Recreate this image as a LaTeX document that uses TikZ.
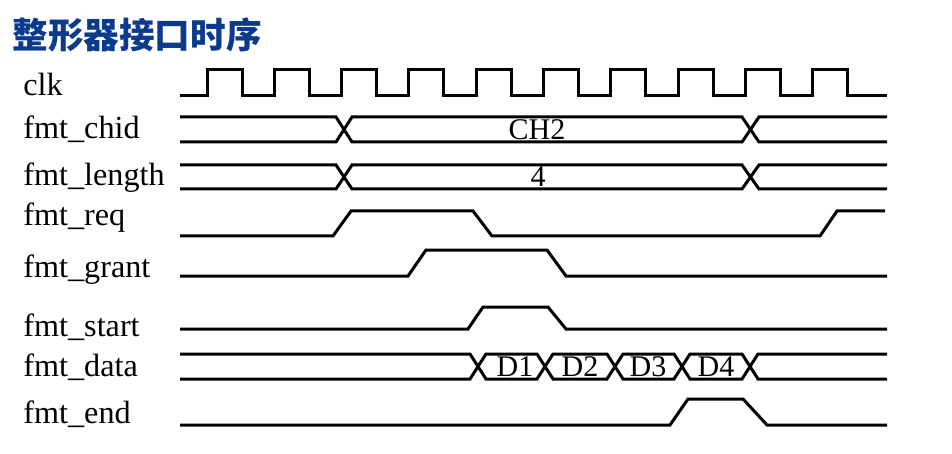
\documentclass[tikz,border=0pt]{standalone}
\usepackage{fontspec}
\setmainfont{Liberation Serif}
\newfontfamily\cjk{Noto Sans CJK SC}
\usetikzlibrary{positioning}
\definecolor{titleblue}{RGB}{12,58,140}
\tikzset{
  sig/.style={line width=1.5pt, line join=miter},
  lbl/.style={anchor=base west, inner sep=0pt, font=\fontsize{16.1}{18}\selectfont},
  val/.style={inner sep=0pt, font=\fontsize{15}{18}\selectfont},
}

\begin{document}
\begin{tikzpicture}[x=0.5pt, y=-0.5pt]
    \useasboundingbox (0,0) rectangle (952,454);
    \node (title) [anchor=west, inner sep=0pt, text=titleblue, font=\cjk\bfseries\fontsize{17.8}{20}\selectfont] at (12,35) {整形器接口时序};

    % signal names
    \node (clk)   [lbl] at (23,96)  {clk};
    \node (chid)  [lbl] at (23,139) {fmt\_chid};
    \node (len)   [lbl] at (23,186) {fmt\_length};
    \node (req)   [lbl] at (23,226) {fmt\_req};
    \node (grant) [lbl] at (23,278) {fmt\_grant};
    \node (start) [lbl] at (23,336) {fmt\_start};
    \node (data)  [lbl] at (23,376) {fmt\_data};
    \node (end)   [lbl] at (23,423) {fmt\_end};

    % clk
    \draw[sig] (180,96)
      \foreach \k in {0,...,9} {
        -- ({207+67.3*\k},96) -- ({207+67.3*\k},70)
        -- ({242+67.3*\k},70) -- ({242+67.3*\k},96)
      } -- (887,96);

    % fmt_chid / fmt_length
    \foreach \t/\b in {117/142, 165/189} {
      \draw[sig] (180,\t) -- (336,\t) -- (352,\b) -- (742,\b) -- (759,\t) -- (887,\t);
      \draw[sig] (180,\b) -- (336,\b) -- (352,\t) -- (742,\t) -- (759,\b) -- (887,\b);
    }
    \node (ch2) [val] at (537,130) {CH2};
    \node (four) [val] at (538,177) {4};

    % fmt_req
    \draw[sig] (180,236) -- (333,236) -- (351,211) -- (473,211) -- (492,236)
      -- (820,236) -- (837,211) -- (885,211);
    % fmt_grant
    \draw[sig] (180,276) -- (408,276) -- (426,250) -- (547,250) -- (566,276) -- (887,276);
    % fmt_start
    \draw[sig] (180,329) -- (468,329) -- (483,307) -- (548,307) -- (566,329) -- (887,329);

    % fmt_data
    \draw[sig] (180,354) -- (470,354) -- (486,379) -- (537,379) -- (553,354) -- (607,354)
      -- (623,379) -- (674,379) -- (690,354) -- (742,354) -- (758,379) -- (887,379);
    \draw[sig] (180,379) -- (470,379) -- (486,354) -- (537,354) -- (553,379) -- (607,379)
      -- (623,354) -- (674,354) -- (690,379) -- (742,379) -- (758,354) -- (887,354);
    \node (d1) [val] at (515,367) {D1};
    \node (d2) [val] at (580,367) {D2};
    \node (d3) [val] at (648,367) {D3};
    \node (d4) [val] at (716,367) {D4};

    % fmt_end
    \draw[sig] (180,425) -- (670,425) -- (688,399) -- (743,399) -- (767,425) -- (887,425);

  \end{tikzpicture}
\end{document}
